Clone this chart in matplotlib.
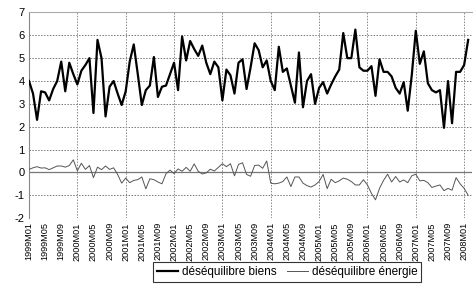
import matplotlib
matplotlib.use("Agg")
import matplotlib.pyplot as plt
import numpy as np

plt.rcParams['font.family'] = ['Liberation Sans', 'DejaVu Sans']

start_year = 1999
n_months = 110
months = [f"{start_year + i // 12}M{(i % 12) + 1:02d}" for i in range(n_months)]

biens = [4.0, 3.45, 2.3, 3.55, 3.5, 3.15, 3.65, 4.0, 4.85, 3.55, 4.8, 4.3,
         3.85, 4.45, 4.7, 5.0, 2.6, 5.8, 5.0, 2.45, 3.75, 4.0, 3.45, 2.95,
         3.55, 4.85, 5.6, 4.3, 2.95, 3.6, 3.8, 5.05, 3.3, 3.75, 3.8, 4.3,
         4.8, 3.6, 5.95, 4.9, 5.75, 5.4, 5.1, 5.55, 4.8, 4.3, 4.85, 4.6,
         3.15, 4.5, 4.25, 3.45, 4.8, 4.95, 3.65, 4.6, 5.65, 5.35, 4.6, 4.9,
         4.0, 3.6, 5.5, 4.4, 4.55, 3.8, 3.05, 5.25, 2.85, 4.0, 4.3, 3.0,
         3.7, 3.95, 3.45, 3.85, 4.2, 4.5, 6.1, 5.0, 5.0, 6.25, 4.6, 4.45,
         4.45, 4.65, 3.35, 4.95, 4.4, 4.4, 4.2, 3.7, 3.45, 3.95, 2.7, 4.25,
         6.2, 4.75, 5.3, 3.9, 3.6, 3.5, 3.6, 1.95, 4.0, 2.15, 4.4, 4.4,
         4.7, 5.8]

energie = [0.13, 0.2, 0.25, 0.19, 0.2, 0.12, 0.2, 0.28, 0.28, 0.23, 0.3, 0.55,
           0.07, 0.4, 0.13, 0.3, -0.23, 0.23, 0.12, 0.28, 0.13, 0.2, -0.09, -0.47,
           -0.25, -0.45, -0.35, -0.32, -0.2, -0.72, -0.28, -0.32, -0.42, -0.5, -0.06, 0.1,
           -0.05, 0.15, 0.05, 0.22, 0.05, 0.37, 0.05, -0.07, -0.02, 0.14, 0.06, 0.22,
           0.38, 0.25, 0.38, -0.15, 0.35, 0.42, -0.09, -0.17, 0.3, 0.32, 0.18, 0.5,
           -0.47, -0.5, -0.47, -0.4, -0.2, -0.62, -0.2, -0.2, -0.47, -0.58, -0.64, -0.55,
           -0.4, -0.09, -0.71, -0.3, -0.45, -0.37, -0.25, -0.3, -0.4, -0.55, -0.55, -0.32,
           -0.55, -0.92, -1.2, -0.7, -0.35, -0.08, -0.42, -0.18, -0.42, -0.33, -0.45, -0.15,
           -0.08, -0.37, -0.35, -0.45, -0.66, -0.6, -0.55, -0.8, -0.7, -0.78, -0.23, -0.5,
           -0.7, -1.0]

label_biens = "déséquilibre biens"
label_energie = "déséquilibre énergie"

fig = plt.figure(figsize=(4.73, 2.90), dpi=100)
ax = fig.add_axes([0.0613, 0.248, 0.937, 0.709])

x = np.arange(n_months)
ax.plot(x, biens, color='black', lw=1.6, label=label_biens, zorder=3)
ax.plot(x, energie, color='#555555', lw=0.7, label=label_energie, zorder=3)

ax.set_xlim(0, 110)
ax.set_ylim(-2, 7)
ax.set_yticks(range(-2, 8))
ax.set_yticklabels([str(v) for v in range(-2, 8)], fontsize=8)
ax.set_xticks(x[::4])
ax.set_xticklabels(months[::4], rotation=90, fontsize=6.6)
ax.tick_params(axis='both', length=0, pad=3)

for v in range(-2, 8):
    if v == 0:
        continue
    ax.axhline(v, color='#777777', lw=0.7, ls=(0, (1.5, 1.5)), zorder=1)
for xv in range(12, n_months, 12):
    ax.axvline(xv, color='#888888', lw=0.7, ls=(0, (1.5, 1.5)), zorder=1)
ax.axhline(0, color='#777777', lw=0.9, zorder=2)

for s in ['right', 'bottom']:
    ax.spines[s].set_visible(False)
ax.spines['left'].set_color('#888888')
ax.spines['top'].set_color('#aaaaaa')
ax.spines['left'].set_linewidth(0.8)
ax.spines['top'].set_linewidth(0.8)

leg = fig.legend(loc='upper center', bbox_to_anchor=(0.607, 0.097), ncol=2,
                 fontsize=8.5, frameon=True, fancybox=False, edgecolor='black',
                 handlelength=1.8, columnspacing=0.9, handletextpad=0.3,
                 borderpad=0.35, borderaxespad=0)
leg.get_frame().set_linewidth(0.8)

fig.savefig('out.png', dpi=100)
